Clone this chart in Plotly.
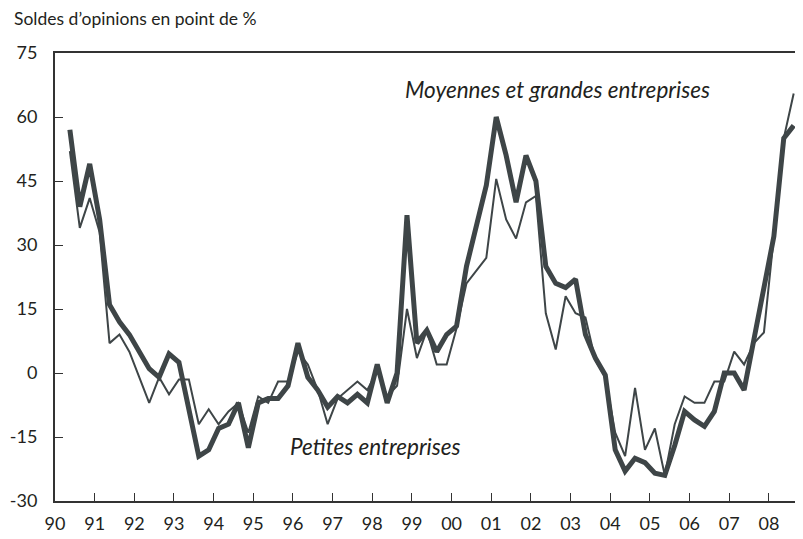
import plotly.graph_objects as go

# quarterly observations, 1990 Q2 -> 2008 Q3 (mid-quarter positions)
start_year = 1990
first_quarter = 2
grandes = [57, 39, 49,
           36, 16, 12, 9,
           5, 1, -1, 4.5,
           2.5, -8, -19.5, -18,
           -13, -12, -7, -17.5,
           -7, -6, -6, -3,
           7, -1, -4, -8,
           -5.5, -7, -5, -7,
           2, -7, 0, 37,
           7, 10, 5, 9,
           11, 25, 34, 44,
           60, 51, 40, 51,
           45, 25, 21, 20,
           22, 9, 3.5, -0.5,
           -18, -23, -20, -21,
           -23.5, -24, -17, -9,
           -11, -12.5, -9, 0,
           0, -4, 8, 20,
           32, 55, 58]
petites = [52, 34, 41,
           33, 7, 9, 5,
           -1, -7, -1, -5,
           -1.5, -1.5, -12, -8.5,
           -12, -9, -7, -14,
           -5.5, -7, -2, -2,
           5, 2, -4, -12,
           -6, -4, -2, -4,
           0.5, -5.5, -3, 15,
           3.5, 10, 2, 2,
           10.5, 21, 24, 27,
           45.5, 36, 31.5, 40,
           41.5, 14, 5.5, 18,
           14, 13, 3, -1,
           -14, -19.5, -3.5, -18,
           -13, -24, -12, -5.5,
           -7, -7, -2, -2,
           5, 2, 7, 9.5,
           32, 55, 65.5]
years = list(range(1990, 2009))
year_labels = [str(y)[2:] for y in years]
y_ticks = [-30, -15, 0, 15, 30, 45, 60, 75]
y_labels = [str(v) for v in y_ticks]

x = [start_year + (first_quarter - 1 + i + 0.5) / 4 for i in range(len(grandes))]

line_col = '#3e4547'
text_col = '#231f20'

fig = go.Figure()
fig.add_scatter(x=x, y=petites, mode='lines', name='Petites entreprises',
                line=dict(color=line_col, width=2))
fig.add_scatter(x=x, y=grandes, mode='lines', name='Moyennes et grandes entreprises',
                line=dict(color=line_col, width=5))

fig.update_layout(
    width=803, height=539,
    margin=dict(l=47, r=8, t=45, b=46),
    paper_bgcolor='white', plot_bgcolor='white',
    showlegend=False,
    font=dict(family='Lato, sans-serif', color=text_col, size=18),
)
fig.update_xaxes(range=[1990, 2008.86], tickvals=years, ticktext=year_labels,
                 ticks='inside', ticklen=8, tickwidth=1, tickcolor='#333',
                 showline=True, linecolor='#333', linewidth=2, mirror=True,
                 showgrid=False, zeroline=False, tickfont=dict(size=18),
                 ticklabelstandoff=5, automargin=False)
fig.update_yaxes(range=[-30, 75], tickvals=y_ticks, ticktext=y_labels,
                 ticks='inside', ticklen=8, tickwidth=1, tickcolor='#333',
                 showline=True, linecolor='#333', linewidth=2,
                 showgrid=False, zeroline=False, tickfont=dict(size=18),
                 ticklabelstandoff=12, automargin=False)

fig.add_annotation(text='Soldes d’opinions en point de %', xref='paper', yref='paper',
                   x=-0.0577, y=1.076, xanchor='left', yanchor='middle', showarrow=False,
                   font=dict(size=17.5))
fig.add_annotation(text='<i>Moyennes et grandes entreprises</i>', x=2002.66, y=66.5,
                   showarrow=False, font=dict(size=22.5))
fig.add_annotation(text='<i>Petites entreprises</i>', x=1998.07, y=-17.3,
                   showarrow=False, font=dict(size=22.5))

fig.write_html('out.html')
